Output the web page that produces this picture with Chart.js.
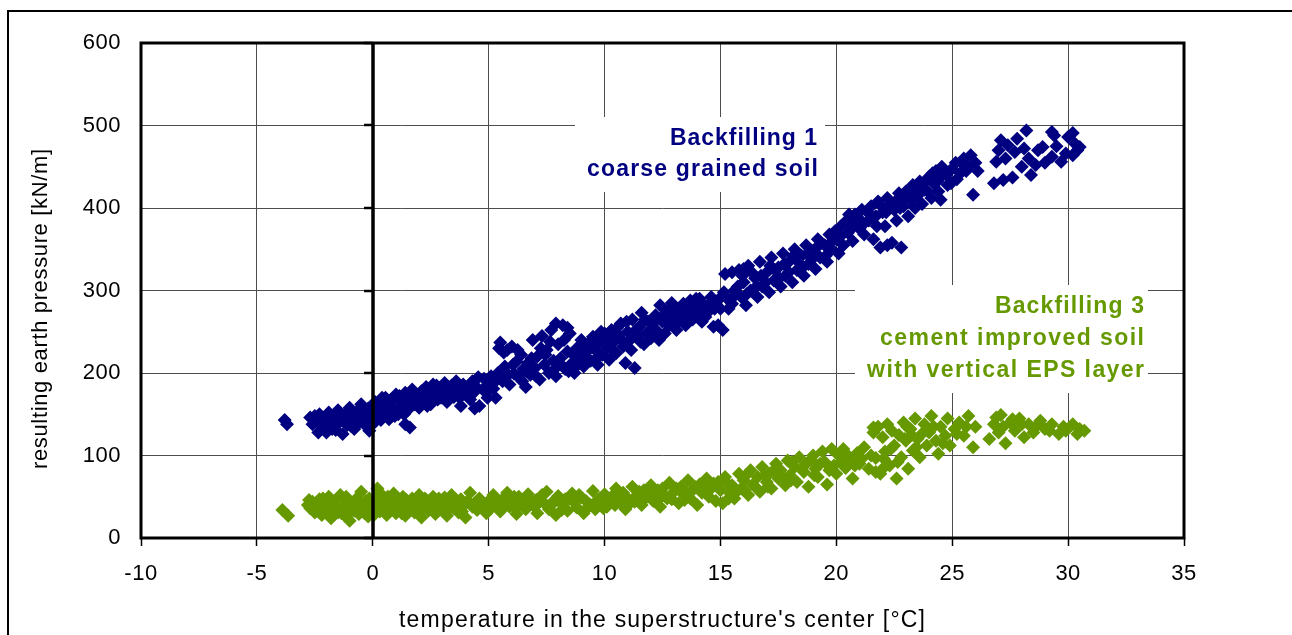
<!DOCTYPE html>
<html><head><meta charset="utf-8">
<script src="https://cdn.jsdelivr.net/npm/chart.js@4"></script>
<style>html,body{margin:0;padding:0;background:#fff}#wrap{width:1292px;height:635px;position:relative}</style>
</head><body><div id="wrap"><canvas id="c" width="1292" height="635"></canvas></div>
<script>
const xTicks = [-10, -5, 0, 5, 10, 15, 20, 25, 30, 35];
const yTicks = [0, 100, 200, 300, 400, 500, 600];
const xTitle = "temperature in the superstructure's center [°C]";
const yTitle = "resulting earth pressure [kN/m]";
const label1 = ["Backfilling 1", "coarse grained soil"];
const label3 = ["Backfilling 3", "cement improved soil", "with vertical EPS layer"];

// Backfilling 1 - coarse grained soil: [temperature °C, earth pressure kN/m]
const backfilling1 = [
[-3.8,143],[-3.7,138],
[-2.7,146],[-2.6,138],[-2.5,148],[-2.4,141],[-2.35,128],[-2.3,150],[-2.2,136],[-2.1,144],[-2.05,145],[-2.0,128],[-1.9,152],[-1.8,139],[-1.75,132],[-1.7,147],[-1.6,131],[-1.5,155],[-1.45,140],[-1.4,143],[-1.3,126],[-1.25,148],[-1.2,150],[-1.1,137],[-1.0,158],[-0.95,136],[-0.9,145],[-0.8,132],[-0.7,153],[-0.65,148],[-0.6,140],[-0.5,162],[-0.4,148],[-0.35,142],[-0.3,136],[-0.2,157],[-0.15,130],[-0.1,144],[-0.05,160],[0.0,151],[0.0,138],
[0.1,165],[0.15,155],[0.2,147],[0.3,158],[0.35,143],[0.4,170],[0.5,152],[0.55,170],[0.6,163],[0.7,144],[0.75,158],[0.8,168],[0.9,157],[0.95,148],[1.0,174],[1.1,150],[1.15,172],[1.2,165],[1.3,160],[1.35,150],[1.4,138],[1.4,176],[1.5,155],[1.55,162],[1.6,134],[1.6,168],[1.7,180],[1.75,170],[1.8,162],[1.9,172],[1.95,165],[2.0,158],[2.1,178],[2.15,170],[2.2,167],[2.3,183],[2.35,160],[2.4,171],[2.5,162],[2.55,178],[2.6,186],[2.7,175],[2.75,185],[2.8,168],[2.9,182],[2.95,170],[3.0,174],[3.1,188],[3.15,178],[3.2,165],[3.3,179],[3.35,172],[3.4,185],[3.5,171],[3.55,182],[3.6,190],[3.7,178],[3.75,170],[3.8,160],[3.9,186],[3.95,178],[4.0,175],[4.15,183],[4.2,168],[4.3,190],[4.35,176],[4.4,157],[4.5,182],[4.55,195],[4.6,160],[4.75,180],[4.8,193],[4.9,176],[4.95,170],[5.0,188],
[5.1,196],[5.15,186],[5.2,181],[5.3,170],[5.35,192],[5.4,200],[5.45,230],[5.5,237],[5.6,190],[5.65,225],[5.7,208],[5.8,228],[5.85,198],[5.9,186],[6.0,232],[6.05,210],[6.1,199],[6.2,214],[6.25,228],[6.3,195],[6.4,222],[6.45,190],[6.5,205],[6.6,183],[6.65,202],[6.7,212],[6.8,198],[6.85,218],[6.9,240],[7.0,206],[7.05,196],[7.1,220],[7.2,192],[7.25,230],[7.3,245],[7.4,210],[7.45,222],[7.5,228],[7.6,200],[7.65,238],[7.7,252],[7.8,215],[7.85,205],[7.9,196],[7.9,260],[8.0,235],[8.05,212],[8.1,218],[8.2,258],[8.25,240],[8.3,205],[8.4,226],[8.4,255],[8.45,202],[8.5,248],[8.6,212],[8.65,222],[8.7,200],[8.8,230],[8.85,210],[8.9,218],[9.0,240],[9.05,228],[9.1,208],[9.2,225],[9.25,214],[9.3,236],[9.4,215],[9.45,232],[9.5,244],[9.6,228],[9.65,218],[9.7,210],[9.8,238],[9.85,250],[9.9,222],[10.0,248],
[10.1,230],[10.15,242],[10.2,216],[10.3,252],[10.35,228],[10.4,238],[10.5,224],[10.55,255],[10.6,246],[10.7,260],[10.75,240],[10.8,232],[10.9,212],[10.95,262],[11.0,250],[11.1,240],[11.15,228],[11.2,265],[11.3,206],[11.35,252],[11.4,245],[11.5,256],[11.55,238],[11.6,273],[11.7,235],[11.75,265],[11.8,248],[11.9,262],[11.95,250],[12.0,242],[12.1,255],[12.15,262],[12.2,270],[12.3,250],[12.35,240],[12.4,282],[12.5,262],[12.55,270],[12.6,248],[12.7,275],[12.75,262],[12.8,258],[12.9,285],[12.95,272],[13.0,265],[13.1,252],[13.15,262],[13.2,278],[13.3,268],[13.35,276],[13.4,284],[13.5,258],[13.55,270],[13.6,275],[13.7,288],[13.75,278],[13.8,265],[13.9,280],[13.95,290],[14.0,270],[14.1,290],[14.15,275],[14.2,262],[14.3,282],[14.35,268],[14.5,275],[14.55,285],[14.6,292],[14.7,256],[14.75,278],[14.8,285],[14.9,258],[14.95,290],[15.0,278],[15.1,252],
[15.15,298],[15.2,320],[15.3,290],[15.35,278],[15.5,284],[15.5,322],[15.55,292],[15.6,300],[15.75,305],[15.8,325],[15.9,292],[15.95,318],[16.0,310],[16.0,326],[16.1,282],[16.15,296],[16.2,330],[16.3,300],[16.35,322],[16.5,315],[16.55,305],[16.6,292],[16.7,335],[16.75,318],[16.8,305],[16.95,310],[17.0,322],[17.1,298],[17.15,330],[17.2,340],[17.3,312],[17.35,325],[17.5,328],[17.55,315],[17.6,305],[17.7,345],[17.75,332],[17.8,318],[17.95,322],[18.0,336],[18.1,310],[18.15,342],[18.2,350],[18.3,325],[18.35,335],[18.5,342],[18.55,328],[18.6,318],[18.7,355],[18.75,345],[18.8,332],[18.95,338],[19.0,348],[19.1,326],[19.15,352],[19.2,362],[19.3,340],[19.35,358],[19.5,355],[19.55,342],[19.6,335],[19.7,368],[19.75,358],[19.8,350],[19.95,372],[20.0,362],[20.1,345],
[20.15,365],[20.2,378],[20.3,355],[20.35,382],[20.5,370],[20.55,392],[20.6,385],[20.7,360],[20.75,378],[20.8,392],[20.95,388],[21.0,375],[21.1,398],[21.15,380],[21.2,368],[21.35,395],[21.4,385],[21.5,402],[21.55,388],[21.6,362],[21.7,390],[21.75,378],[21.8,408],[21.9,352],[21.95,402],[22.0,395],[22.1,378],[22.15,395],[22.2,412],[22.2,355],[22.35,405],[22.4,358],[22.5,398],[22.55,408],[22.6,385],[22.7,418],[22.75,400],[22.8,352],[22.9,402],[22.95,412],[23.0,420],[23.1,390],[23.15,420],[23.2,410],[23.3,428],[23.35,412],[23.4,400],[23.5,415],[23.55,425],[23.6,432],[23.7,405],[23.75,430],[23.8,422],[23.95,420],[24.0,438],[24.1,412],[24.15,442],[24.2,430],[24.3,445],[24.35,432],[24.4,420],[24.5,410],[24.55,450],[24.6,440],[24.75,440],[24.8,428],[24.95,430],[25.0,448],[25.15,455],[25.2,435],[25.35,442],[25.4,455],
[25.5,460],[25.6,445],[25.7,450],[25.8,464],[25.9,416],[26.0,455],[26.1,445],[26.8,430],[26.9,456],[27.0,470],[27.1,482],[27.2,434],[27.3,460],[27.4,476],[27.6,437],[27.7,468],[27.8,484],[28.0,450],[28.1,472],[28.2,494],[28.3,460],[28.4,440],[28.6,452],[28.7,470],[28.9,474],[29.0,455],[29.3,492],[29.4,488],[29.3,462],[29.5,475],[29.7,456],[29.9,466],[30.0,486],[30.2,491],[30.2,464],[30.3,478],[30.4,470],[30.5,474]
];

// Backfilling 3 - cement improved soil with vertical EPS layer
const backfilling3 = [
[-3.9,34],[-3.65,27],
[-2.8,40],[-2.75,46],[-2.7,36],[-2.6,44],[-2.55,38],[-2.5,31],[-2.4,39],[-2.35,32],[-2.3,47],[-2.2,28],[-2.15,48],[-2.1,42],[-2.0,35],[-1.95,30],[-1.9,50],[-1.8,24],[-1.75,44],[-1.7,38],[-1.6,45],[-1.55,38],[-1.5,31],[-1.4,52],[-1.35,30],[-1.3,36],[-1.2,27],[-1.15,50],[-1.1,44],[-1.0,21],[-0.95,32],[-0.9,40],[-0.8,33],[-0.75,40],[-0.7,48],[-0.6,29],[-0.55,36],[-0.5,56],[-0.4,38],[-0.35,30],[-0.3,45],[-0.2,26],[-0.15,48],[-0.1,41],[0.0,35],[0.05,28],[0.1,47],[0.2,60],[0.25,42],[0.3,32],[0.4,52],[0.45,34],[0.5,39],[0.6,28],[0.65,50],[0.7,46],[0.8,36],[0.85,42],[0.9,54],[1.0,30],[1.05,48],[1.1,43],[1.2,38],[1.25,30],[1.3,50],[1.4,27],[1.45,46],[1.5,41],[1.6,35],[1.65,42],[1.7,48],[1.8,31],[1.85,38],[1.9,44],[2.0,52],[2.05,33],[2.1,25],[2.2,39],[2.25,48],[2.3,46],[2.4,33],[2.45,40],[2.5,42],[2.6,50],[2.65,36],[2.7,29],[2.8,38],[2.85,48],[2.9,45],[3.0,35],[3.05,42],[3.1,49],[3.2,27],[3.25,34],[3.3,41],[3.4,52],[3.45,44],[3.5,36],[3.6,44],[3.65,38],[3.7,31],[3.8,47],[3.85,32],[3.9,39],[4.0,25],[4.1,45],[4.2,55],[4.3,38],[4.4,42],[4.5,34],[4.6,48],[4.7,44],[4.8,38],[4.9,30],
[5.0,45],[5.05,38],[5.1,36],[5.2,52],[5.3,46],[5.4,40],[5.5,32],[5.6,47],[5.7,40],[5.8,55],[5.9,38],[6.0,44],[6.1,50],[6.15,36],[6.2,29],[6.3,50],[6.4,41],[6.5,45],[6.6,35],[6.7,53],[6.8,46],[6.9,40],[7.0,38],[7.05,46],[7.1,30],[7.2,48],[7.3,52],[7.4,42],[7.5,56],[7.6,35],[7.7,40],[7.8,45],[7.9,28],[8.0,51],[8.1,44],[8.15,34],[8.2,40],[8.3,47],[8.4,33],[8.5,48],[8.6,54],[8.7,43],[8.8,37],[8.9,52],[9.0,49],[9.1,30],[9.2,45],[9.3,38],[9.4,40],[9.5,57],[9.6,35],[9.7,46],[9.8,48],[9.9,42],[9.95,36],[10.0,53],
[10.1,38],[10.2,46],[10.3,50],[10.4,45],[10.45,40],[10.5,60],[10.6,52],[10.7,42],[10.8,55],[10.9,35],[11.0,48],[11.1,42],[11.2,62],[11.3,44],[11.4,52],[11.45,46],[11.5,56],[11.6,40],[11.7,58],[11.8,49],[11.9,52],[12.0,64],[12.1,45],[12.2,55],[12.3,58],[12.4,38],[12.45,50],[12.5,60],[12.6,51],[12.7,48],[12.8,67],[12.9,47],[13.0,56],[13.1,60],[13.2,42],[13.3,62],[13.4,53],[13.45,46],[13.5,56],[13.6,70],[13.7,48],[13.8,58],[13.9,62],[14.0,40],[14.1,65],[14.2,55],[14.3,58],[14.4,72],[14.45,62],[14.5,50],[14.6,60],[14.7,66],[14.8,45],[14.9,68],
[15.0,58],[15.1,42],[15.2,74],[15.3,66],[15.35,48],[15.4,55],[15.5,64],[15.6,48],[15.7,56],[15.8,78],[15.9,60],[16.0,70],[16.05,58],[16.1,76],[16.2,52],[16.3,82],[16.4,65],[16.5,62],[16.6,74],[16.7,56],[16.8,86],[16.9,76],[17.0,68],[17.05,62],[17.1,78],[17.2,60],[17.3,82],[17.4,90],[17.5,72],[17.6,82],[17.7,74],[17.8,64],[17.9,94],[18.0,76],[18.05,70],[18.1,92],[18.2,86],[18.3,68],[18.4,98],[18.5,84],[18.6,80],[18.7,90],[18.8,62],[18.9,95],[19.0,100],[19.05,76],[19.1,84],[19.2,74],[19.3,90],[19.4,105],[19.5,92],[19.6,65],[19.7,82],[19.8,108],[19.9,88],[20.0,78],
[20.1,100],[20.2,92],[20.3,108],[20.4,85],[20.5,100],[20.6,95],[20.7,72],[20.8,88],[20.9,103],[21.0,90],[21.1,96],[21.2,110],[21.4,84],[21.5,100],[21.6,128],[21.6,134],[21.7,97],[21.7,80],[21.8,135],[21.9,78],[22.0,122],[22.0,84],[22.05,96],[22.1,105],[22.2,138],[22.3,88],[22.35,108],[22.4,130],[22.5,112],[22.6,72],[22.65,92],[22.7,125],[22.8,98],[22.9,140],[22.95,120],[23.0,118],[23.05,135],[23.1,84],[23.2,132],[23.25,125],[23.3,106],[23.4,145],[23.45,110],[23.5,120],[23.6,98],[23.75,128],[23.8,138],[23.9,112],[24.0,128],[24.1,148],[24.2,135],[24.3,118],[24.4,102],[24.5,135],[24.6,115],[24.7,124],[24.8,145],[24.9,112],
[25.1,132],[25.2,126],[25.3,140],[25.5,124],[25.6,135],[25.7,148],[25.9,110],[26.0,135],[26.6,120],[26.8,138],[26.9,146],[27.0,128],[27.1,149],[27.2,135],[27.3,115],[27.5,140],[27.6,144],[27.7,130],[27.9,145],[28.0,138],[28.1,122],[28.3,138],[28.5,128],[28.6,135],[28.8,142],[29.0,132],[29.2,130],[29.3,138],[29.6,126],[29.8,135],[29.9,130],[30.2,138],[30.4,126],[30.5,132],[30.7,130]
];

const NAVY = '#000080';
const GREEN = '#669900';
const GRID = '#4d4d4d';
const FONT = "'Liberation Sans', Arial, sans-serif";

function drawFitted(ctx, text, x, y, width, align) {
  ctx.letterSpacing = '0px';
  const w = ctx.measureText(text).width;
  const n = [...text].length;
  const sp = (width - w) / (n - 1);
  ctx.letterSpacing = sp.toFixed(2) + 'px';
  ctx.textAlign = align;
  let xx = x;
  if (align === 'right') xx = x + sp; else if (align === 'center') xx = x + sp / 2;
  ctx.fillText(text, xx, y);
  ctx.letterSpacing = '0px';
}

const decor = {
  id: 'decor',
  beforeDraw(chart) {
    chart.ctx.letterSpacing = '0.5px';
  },
  beforeDatasetsDraw(chart) {
    const ctx = chart.ctx;
    ctx.save();
    ctx.fillStyle = '#fff';
    ctx.fillRect(575, 117, 250, 75);
    ctx.fillRect(855, 285, 293, 108);
    ctx.restore();
  },
  afterDatasetsDraw(chart) {
    const ctx = chart.ctx;
    const a = chart.chartArea;
    const xs = chart.scales.x, ys = chart.scales.y;
    ctx.save();
    ctx.letterSpacing = '0px';
    ctx.strokeStyle = '#000';
    ctx.lineWidth = 3;
    ctx.strokeRect(a.left, a.top, a.right - a.left, a.bottom - a.top);
    const x0 = Math.round(xs.getPixelForValue(0));
    ctx.lineWidth = 3.5;
    ctx.beginPath();
    ctx.moveTo(x0, a.top);
    ctx.lineTo(x0, a.bottom);
    ctx.stroke();
    ctx.lineWidth = 2.5;
    yTicks.forEach(v => {
      const py = Math.round(ys.getPixelForValue(v));
      ctx.beginPath();
      ctx.moveTo(x0 - 9, py);
      ctx.lineTo(x0, py);
      ctx.stroke();
    });
    ctx.lineWidth = 2;
    ctx.beginPath();
    ctx.moveTo(8, 700);
    ctx.lineTo(8, 11);
    ctx.lineTo(1400, 11);
    ctx.stroke();
    ctx.font = 'bold 23px ' + FONT;
    ctx.textBaseline = 'alphabetic';
    ctx.fillStyle = NAVY;
    drawFitted(ctx, label1[0], 817, 145, 147, 'right');
    drawFitted(ctx, label1[1], 818, 176, 231, 'right');
    ctx.fillStyle = GREEN;
    drawFitted(ctx, label3[0], 1144, 313, 149, 'right');
    drawFitted(ctx, label3[1], 1144, 345, 264, 'right');
    drawFitted(ctx, label3[2], 1144, 377, 277, 'right');
    ctx.fillStyle = '#000';
    ctx.font = '23px ' + FONT;
    drawFitted(ctx, xTitle, 662, 627, 526, 'center');
    ctx.font = '22px ' + FONT;
    ctx.translate(47, 309);
    ctx.rotate(-Math.PI / 2);
    drawFitted(ctx, yTitle, 0, 0, 320, 'center');
    ctx.restore();
  }
};

const pts = arr => arr.map(([x, y]) => ({ x, y }));

new Chart(document.getElementById('c'), {
  type: 'scatter',
  data: {
    datasets: [
      { label: label1.join(' '), data: pts(backfilling1), pointStyle: 'rectRot', pointRadius: 7, pointHoverRadius: 7, backgroundColor: NAVY, borderColor: NAVY, borderWidth: 0 },
      { label: label3.join(' '), data: pts(backfilling3), pointStyle: 'rectRot', pointRadius: 7, pointHoverRadius: 7, backgroundColor: GREEN, borderColor: GREEN, borderWidth: 0 }
    ]
  },
  options: {
    responsive: false,
    animation: false,
    events: [],
    layout: { padding: { left: 0, top: 43, right: 108, bottom: 0 } },
    plugins: { legend: { display: false }, tooltip: { enabled: false } },
    scales: {
      x: {
        type: 'linear', min: -10, max: 35,
        afterBuildTicks: s => { s.ticks = xTicks.map(v => ({ value: v })); },
        afterFit: s => { s.height = 97; },
        ticks: { color: '#000', font: { family: FONT, size: 22 }, padding: 15, maxRotation: 0, autoSkip: false },
        grid: { color: GRID, lineWidth: 1, drawTicks: true, tickLength: 8, tickColor: '#000', tickWidth: 1.5 },
        border: { display: false }
      },
      y: {
        type: 'linear', min: 0, max: 600,
        afterBuildTicks: s => { s.ticks = yTicks.map(v => ({ value: v })); },
        afterFit: s => { s.width = 141; },
        ticks: { color: '#000', font: { family: FONT, size: 22 }, padding: 20 },
        grid: { color: GRID, lineWidth: 1, drawTicks: false },
        border: { display: false }
      }
    }
  },
  plugins: [decor]
});
</script>
</body></html>
